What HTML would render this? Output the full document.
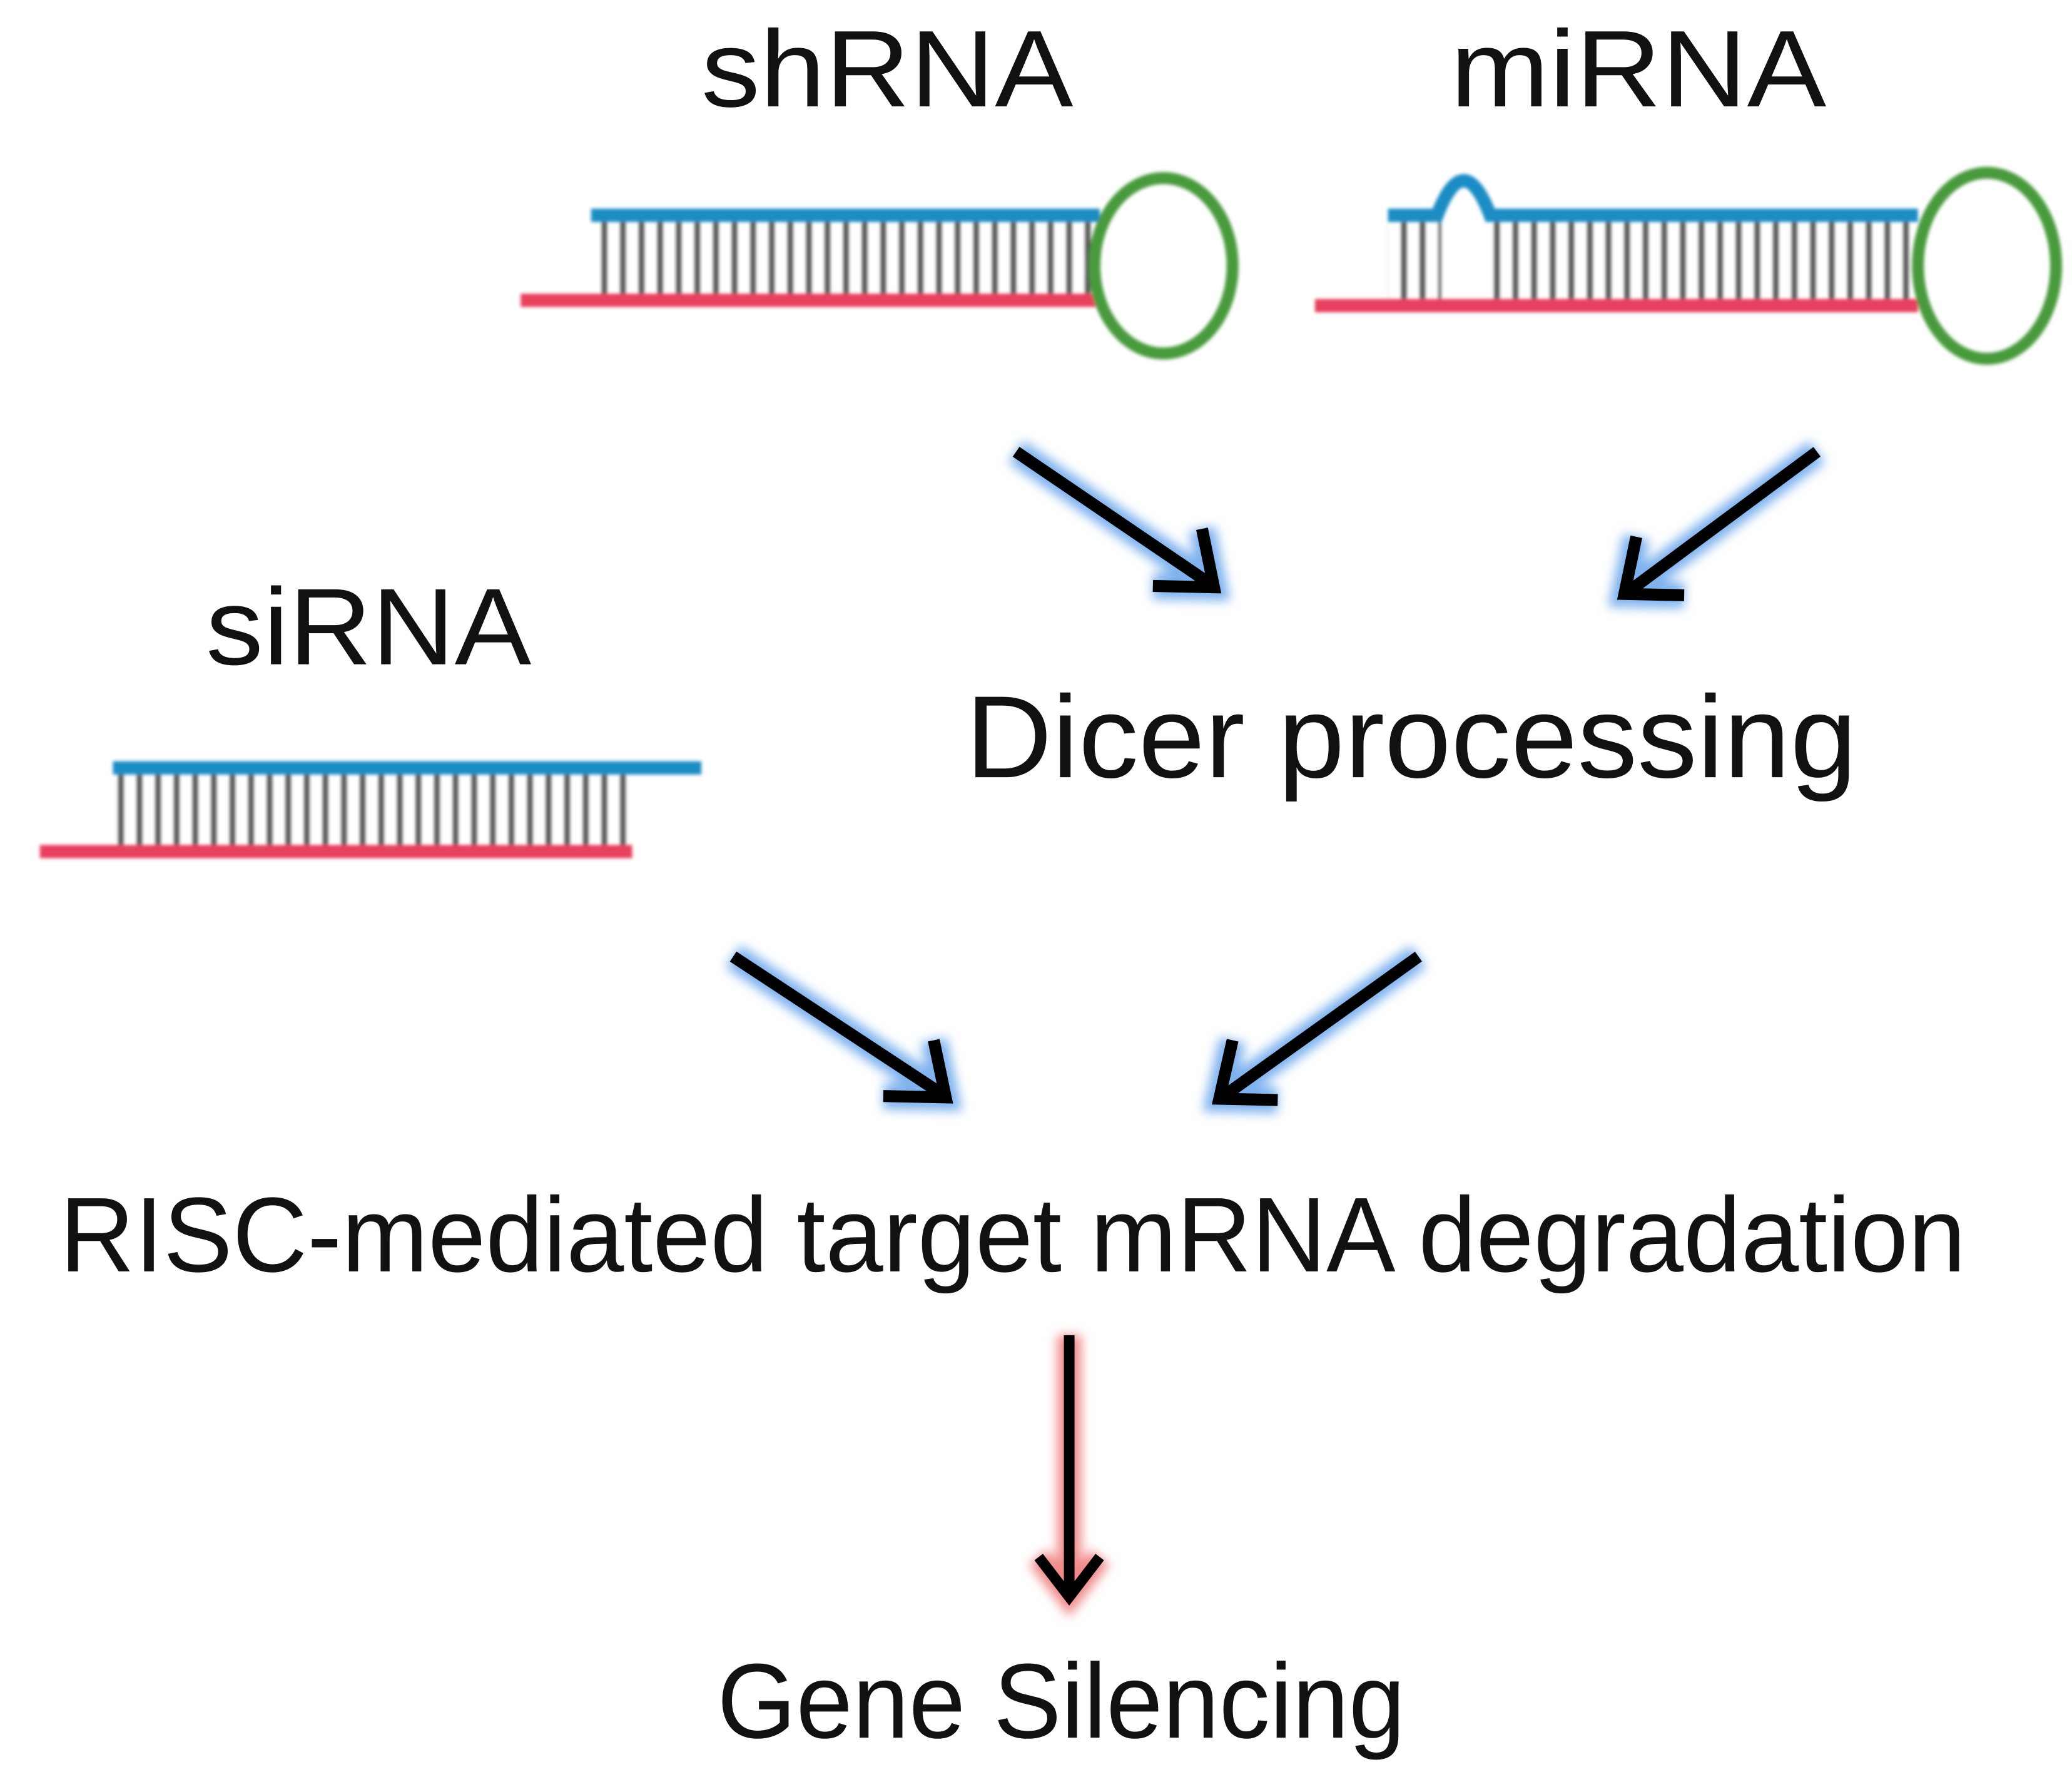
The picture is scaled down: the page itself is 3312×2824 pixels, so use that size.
<!DOCTYPE html>
<html><head><meta charset="utf-8"><style>
html,body{margin:0;padding:0;background:#fff;}
svg{display:block;}
text{font-family:"Liberation Sans","DejaVu Sans",sans-serif;fill:#111;}
</style></head><body>
<svg width="3312" height="2824" viewBox="0 0 1560 1330" xmlns="http://www.w3.org/2000/svg">
<defs>
<filter id="glow" x="-30%" y="-30%" width="160%" height="160%"><feGaussianBlur stdDeviation="4"/></filter>
<filter id="soft" x="-10%" y="-50%" width="120%" height="200%"><feGaussianBlur stdDeviation="1.3"/></filter>
<pattern id="bp" width="14" height="60" patternUnits="userSpaceOnUse"><rect x="5" y="0" width="4" height="60" fill="#555"/></pattern>
</defs>

<text x="528" y="80" font-size="82" textLength="280" lengthAdjust="spacingAndGlyphs">shRNA</text>
<text x="1092" y="80" font-size="82" textLength="283" lengthAdjust="spacingAndGlyphs">miRNA</text>
<text x="155" y="500" font-size="82" textLength="245" lengthAdjust="spacingAndGlyphs">siRNA</text>
<text x="727" y="585" font-size="88" textLength="671" lengthAdjust="spacingAndGlyphs">Dicer processing</text>
<text x="45" y="957" font-size="80" textLength="1435" lengthAdjust="spacingAndGlyphs">RISC-mediated target mRNA degradation</text>
<text x="540" y="1308" font-size="80" textLength="518" lengthAdjust="spacingAndGlyphs">Gene Silencing</text>

<g filter="url(#soft)">
<rect x="447" y="166" width="376" height="56" fill="url(#bp)"/>
<line x1="445" y1="162" x2="828" y2="162" stroke="#1a8cc4" stroke-width="10"/>
<line x1="392" y1="226" x2="828" y2="226" stroke="#e8405e" stroke-width="10"/>
<ellipse cx="876" cy="200" rx="52" ry="66" fill="none" stroke="#4a9a3c" stroke-width="9"/>
</g>

<g filter="url(#soft)">
<rect x="1045" y="166" width="40" height="60" fill="url(#bp)"/>
<rect x="1123" y="166" width="316" height="60" fill="url(#bp)"/>
<path d="M1045 162 L1082 162 Q1102 110 1122 162 L1444 162" fill="none" stroke="#1a8cc4" stroke-width="10"/>
<line x1="990" y1="230" x2="1444" y2="230" stroke="#e8405e" stroke-width="10"/>
<ellipse cx="1496" cy="200" rx="52" ry="70" fill="none" stroke="#4a9a3c" stroke-width="9"/>
</g>

<g filter="url(#soft)">
<rect x="88" y="582" width="386" height="56" fill="url(#bp)"/>
<line x1="85" y1="578" x2="528" y2="578" stroke="#1a8cc4" stroke-width="10"/>
<line x1="30" y1="641" x2="476" y2="641" stroke="#e8405e" stroke-width="10"/>
</g>

<g fill="none" stroke-linecap="butt" stroke-linejoin="miter">
 <g stroke="#7fb2ee" stroke-width="20" filter="url(#glow)">
  <path d="M765 340 L912 440 M868 441 L914 442 L905 398"/>
  <path d="M1368 340 L1225 446 M1268 448 L1223 447 L1232 404"/>
  <path d="M552 720 L710 824 M665 825 L712 826 L703 783"/>
  <path d="M1068 720 L920 826 M962 828 L918 827 L928 783"/>
 </g>
 <g stroke="#000" stroke-width="9">
  <path d="M765 340 L912 440 M868 441 L914 442 L905 398"/>
  <path d="M1368 340 L1225 446 M1268 448 L1223 447 L1232 404"/>
  <path d="M552 720 L710 824 M665 825 L712 826 L703 783"/>
  <path d="M1068 720 L920 826 M962 828 L918 827 L928 783"/>
 </g>
 <g stroke="#f08a8a" stroke-width="18" filter="url(#glow)">
  <path d="M805 1005 L805 1200 M782 1172 L805 1202 L828 1172"/>
 </g>
 <g stroke="#000" stroke-width="8">
  <path d="M805 1005 L805 1200 M782 1172 L805 1202 L828 1172"/>
 </g>
</g>
</svg>
</body></html>
